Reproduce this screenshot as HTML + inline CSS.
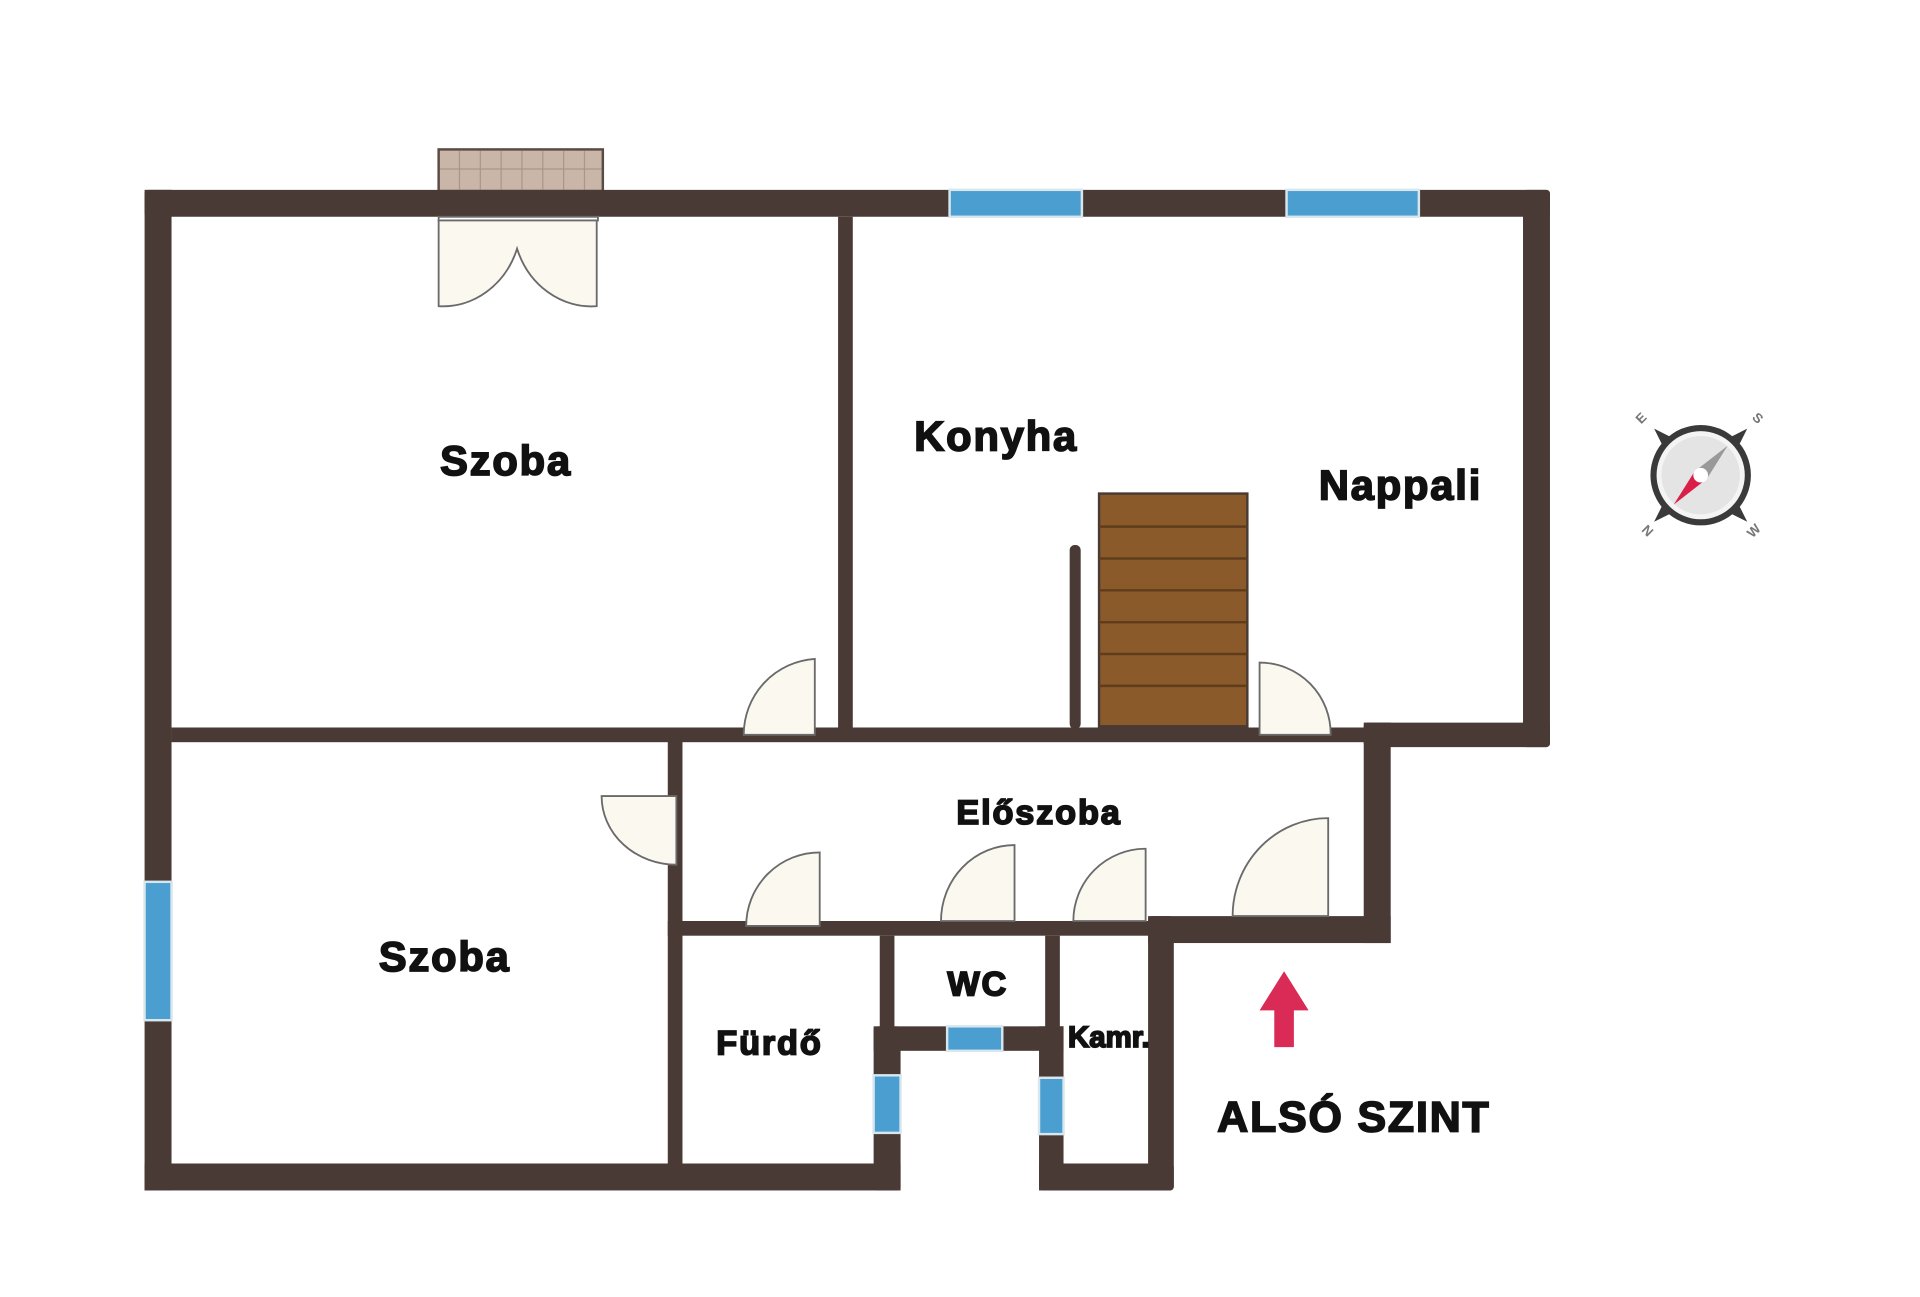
<!DOCTYPE html>
<html><head><meta charset="utf-8"><style>
html,body{margin:0;padding:0;background:#fff;width:1920px;height:1297px;overflow:hidden}
svg{display:block}
text{font-family:"Liberation Sans",sans-serif;font-weight:bold;fill:#111;stroke:#111;stroke-width:1.4;letter-spacing:1.5px}
</style></head><body>
<svg width="1920" height="1297" viewBox="0 0 1567 1059" preserveAspectRatio="none" xmlns="http://www.w3.org/2000/svg">
<rect width="1567" height="1059" fill="#fff"/>
<!-- fireplace -->
<rect x="358" y="122" width="134" height="34" fill="#c9b6a8" stroke="#5a4a44" stroke-width="2"/>
<g stroke="#a8968a" stroke-width="1">
<line x1="375" y1="123" x2="375" y2="155"/><line x1="392" y1="123" x2="392" y2="155"/><line x1="409" y1="123" x2="409" y2="155"/><line x1="426" y1="123" x2="426" y2="155"/><line x1="443" y1="123" x2="443" y2="155"/><line x1="460" y1="123" x2="460" y2="155"/><line x1="477" y1="123" x2="477" y2="155"/><line x1="359" y1="138" x2="491" y2="138"/>
</g>
<!-- stairs -->
<rect x="897" y="403" width="121" height="190" fill="#8b5a2b" stroke="#4a3a35" stroke-width="2"/>
<g stroke="#5e3c1c" stroke-width="2">
<line x1="897" y1="430" x2="1018" y2="430"/><line x1="897" y1="456" x2="1018" y2="456"/><line x1="897" y1="482" x2="1018" y2="482"/><line x1="897" y1="508" x2="1018" y2="508"/><line x1="897" y1="534" x2="1018" y2="534"/><line x1="897" y1="560" x2="1018" y2="560"/>
</g>
<rect x="873" y="445" width="9" height="150" rx="4" fill="#4a3a35"/>
<!-- walls -->
<g fill="#4a3a35">
<rect x="118" y="155" width="1147" height="22" rx="3"/>
<rect x="118" y="155" width="22" height="817"/>
<rect x="1243" y="155" width="22" height="455" rx="3"/>
<rect x="1113" y="590" width="152" height="20" rx="3"/>
<rect x="1113" y="590" width="22" height="180"/>
<rect x="937" y="748" width="198" height="22"/>
<rect x="937" y="748" width="21" height="224" rx="3"/>
<rect x="118" y="950" width="617" height="22"/>
<rect x="713" y="838" width="22" height="134" rx="3"/>
<rect x="848" y="838" width="20" height="134"/>
<rect x="848" y="950" width="110" height="22" rx="3"/>
<rect x="684" y="177" width="12" height="423"/>
<rect x="140" y="594" width="975" height="12"/>
<rect x="545" y="600" width="12" height="350"/>
<rect x="545" y="752" width="400" height="12"/>
<rect x="718" y="764" width="12" height="80"/>
<rect x="853" y="764" width="12" height="80"/>
<rect x="713" y="838" width="155" height="20"/>
</g>
<!-- windows -->
<g fill="#4a9fd0" stroke="#d8e6ee" stroke-width="2">
<rect x="775" y="155" width="108" height="22"/>
<rect x="1050" y="155" width="108" height="22"/>
<rect x="118" y="720" width="22" height="113"/>
<rect x="773" y="838" width="45" height="20"/>
<rect x="713" y="878" width="22" height="47"/>
<rect x="848" y="880" width="20" height="46"/>
</g>
<!-- doors -->
<g fill="#fbf8f0" stroke="#6a6a6a" stroke-width="1.5">
<rect x="358" y="177" width="130" height="3" fill="#fff"/>
<path d="M358 180 L358 250 A64 70 0 0 0 422 203 A64 70 0 0 0 487 250 L487 180 Z"/>
<path d="M665 600 L665 538 A62 62 0 0 0 607 600 Z"/>
<path d="M1028 600 L1028 541 A58 58 0 0 1 1086 600 Z"/>
<path d="M552 650 L491 650 A61 56 0 0 0 552 706 Z"/>
<path d="M669 756 L669 696 A60 60 0 0 0 609 756 Z"/>
<path d="M828 752 L828 690 A60 62 0 0 0 768 752 Z"/>
<path d="M935 752 L935 693 A59 59 0 0 0 876 752 Z"/>
<path d="M1084 748 L1084 668 A78 80 0 0 0 1006 748 Z"/>
</g>
<!-- labels -->
<text x="413" y="388" font-size="34" text-anchor="middle">Szoba</text>
<text x="813" y="368" font-size="34" text-anchor="middle">Konyha</text>
<text x="1143" y="408" font-size="34" text-anchor="middle">Nappali</text>
<text x="848" y="673" font-size="28" text-anchor="middle">Előszoba</text>
<text x="363" y="793" font-size="34" text-anchor="middle">Szoba</text>
<text x="628" y="861" font-size="28" text-anchor="middle">Fürdő</text>
<text x="798" y="813" font-size="28" text-anchor="middle">WC</text>
<text x="905" y="855" font-size="24" text-anchor="middle" style="letter-spacing:0">Kamr.</text>
<text x="1105" y="924" font-size="35" text-anchor="middle">ALSÓ SZINT</text>
<!-- arrow -->
<path d="M1048 793 L1068 825 L1056 825 L1056 855 L1040 855 L1040 825 L1028 825 Z" fill="#d92b56"/>
<!-- compass -->
<g transform="translate(1388,388)">
<path d="M-38 -38 L-22 -30 L22 -30 L38 -38 L30 -22 L30 22 L38 38 L22 30 L-22 30 L-38 38 L-30 22 L-30 -22 Z" fill="#3a3a3a"/>
<circle r="41" fill="#3a3a3a"/>
<circle r="36" fill="#f4f4f4"/>
<circle r="32" fill="#e4e4e4"/>
<path d="M-5 -3 L22 -24 L5 3 Z" fill="#999"/>
<path d="M5 3 L-22 24 L-5 -3 Z" fill="#d91e48"/>
<circle r="6" fill="#fff"/>
<g font-size="11">
<text transform="translate(-46,-44) rotate(-45)" text-anchor="middle" style="fill:#777;stroke:none;letter-spacing:0">E</text>
<text transform="translate(44,-44) rotate(45)" text-anchor="middle" style="fill:#777;stroke:none;letter-spacing:0">S</text>
<text transform="translate(-46,48) rotate(45)" text-anchor="middle" style="fill:#777;stroke:none;letter-spacing:0">N</text>
<text transform="translate(46,48) rotate(-45)" text-anchor="middle" style="fill:#777;stroke:none;letter-spacing:0">W</text>
</g>
</g>
</svg>
</body></html>
